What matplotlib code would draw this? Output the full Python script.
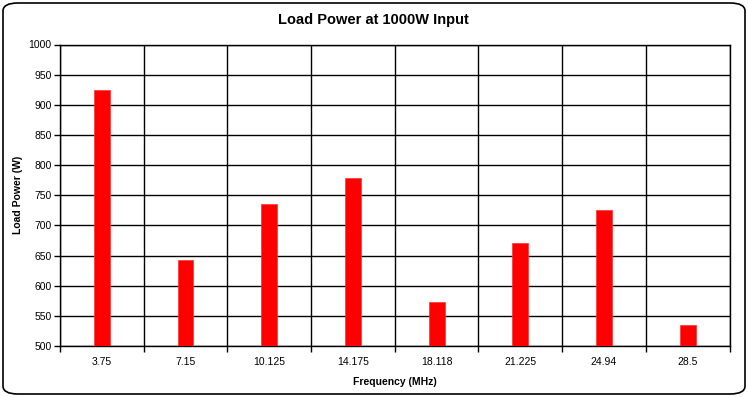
import matplotlib
matplotlib.use("Agg")
import matplotlib.pyplot as plt
from matplotlib.patches import FancyBboxPatch
import numpy as np

categories = ["3.75", "7.15", "10.125", "14.175", "18.118", "21.225", "24.94", "28.5"]
load_power = [924, 643, 736, 778, 573, 671, 726, 534]
y_ticks = [500, 550, 600, 650, 700, 750, 800, 850, 900, 950, 1000]

plt.rcParams['font.family'] = ['Liberation Sans', 'DejaVu Sans']

W, H = 748, 397
fig = plt.figure(figsize=(W / 100, H / 100), dpi=100)
fig.patch.set_facecolor("white")

border = FancyBboxPatch((3 / W, 3 / H), (W - 6) / W, (H - 6) / H,
                        boxstyle="round,pad=0,rounding_size=0.02",
                        transform=fig.transFigure, fill=False,
                        edgecolor="black", linewidth=1.2)
fig.patches.append(border)

left, right, top, bottom = 60, 729.5, 44.5, 346
ax = fig.add_axes([left / W, (H - bottom) / H, (right - left) / W, (bottom - top) / H])

x = np.arange(len(categories))
ax.bar(x, load_power, width=0.19, color="#FF0000", edgecolor="#FF3030",
       linewidth=0.5, zorder=3)

ax.set_xlim(-0.5, len(categories) - 0.5)
ax.set_ylim(500, 1000)
ax.set_yticks(y_ticks)
ax.set_yticklabels([str(v) for v in y_ticks], fontsize=7.5)
ax.set_xticks(x)
ax.set_xticklabels(categories, fontsize=7.5)
ax.tick_params(axis="x", which="major", length=0, pad=8)
ax.set_xticks(np.arange(-0.5, len(categories)), minor=True)
ax.tick_params(axis="x", which="minor", length=4, direction="out", width=1)
ax.tick_params(axis="y", length=4, direction="out", width=1, pad=2)

ax.grid(axis="y", which="major", color="black", linewidth=1, zorder=0)
ax.grid(axis="x", which="minor", color="black", linewidth=1, zorder=0)
ax.set_axisbelow(True)
for s in ax.spines.values():
    s.set_color("black")
    s.set_linewidth(1)

ax.set_xlabel("Frequency (MHz)", fontsize=7.5, fontweight="bold", labelpad=7)
ax.set_ylabel("Load Power (W)", fontsize=7.5, fontweight="bold", labelpad=4)
fig.text(373 / W, 1 - 20 / H, "Load Power at 1000W Input",
         ha="center", va="center", fontsize=10.5, fontweight="bold")

fig.savefig("out.png", dpi=100)
